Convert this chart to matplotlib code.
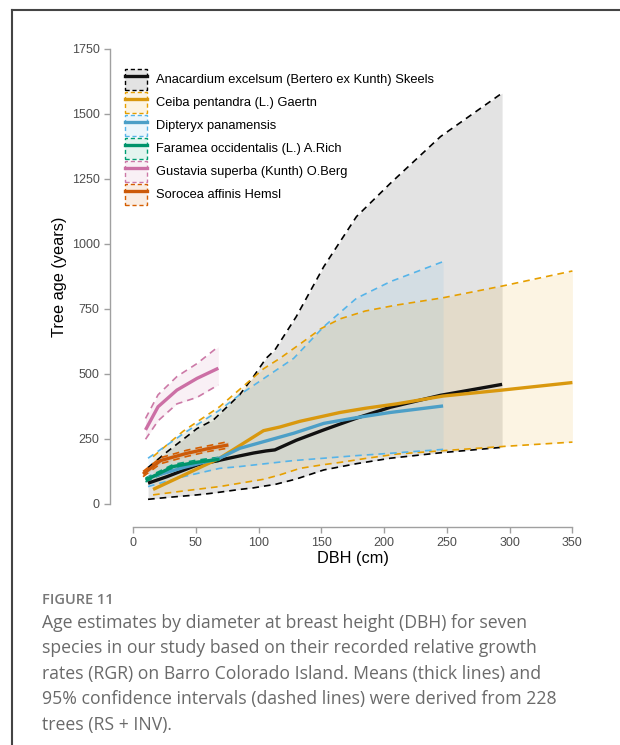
import matplotlib
matplotlib.use("Agg")
import matplotlib.pyplot as plt
from matplotlib.patches import Patch
from matplotlib.lines import Line2D

plt.rcParams["font.family"] = ["Liberation Sans", "DejaVu Sans"]

species = [
    "Anacardium excelsum (Bertero ex Kunth) Skeels",
    "Ceiba pentandra (L.) Gaertn",
    "Dipteryx panamensis",
    "Faramea occidentalis (L.) A.Rich",
    "Gustavia superba (Kunth) O.Berg",
    "Sorocea affinis Hemsl",
]
ci_colors = ["#000000", "#E69F00", "#56B4E9", "#009E73", "#CC79A7", "#D55E00"]
mean_colors = ["#111111", "#D9980E", "#4C9FC7", "#00946B", "#CC6FA5", "#CC5A08"]

# DBH (cm), mean age, lower and upper 95% CI (years)
anac_dbh = [12, 27, 51, 64, 85, 96, 106, 113, 130, 152, 178, 205, 245, 294]
anac_mean = [80, 105, 150, 163, 185, 196, 204, 208, 245, 285, 330, 372, 418, 460]
anac_lo = [18, 25, 35, 42, 56, 62, 70, 75, 96, 131, 155, 176, 197, 218]
anac_hi = [140, 200, 290, 323, 420, 490, 560, 592, 720, 913, 1105, 1233, 1413, 1580]

ceiba_dbh = [16, 40, 69, 104, 117, 133, 150, 165, 185, 210, 247, 294, 350]
ceiba_mean = [56, 110, 176, 282, 296, 318, 336, 352, 368, 385, 415, 438, 467]
ceiba_lo = [35, 50, 67, 95, 112, 137, 150, 160, 175, 192, 205, 221, 238]
ceiba_hi = [182, 280, 374, 520, 560, 615, 675, 712, 742, 765, 793, 838, 896]

dipt_dbh = [12, 40, 69, 85, 128, 152, 178, 205, 247]
dipt_mean = [100, 140, 176, 214, 272, 310, 332, 352, 377]
dipt_lo = [67, 105, 137, 144, 167, 176, 186, 195, 210]
dipt_hi = [176, 270, 361, 420, 560, 682, 791, 855, 932]

fara_dbh = [10, 22, 32, 50, 69]
fara_mean = [92, 120, 144, 160, 172]
fara_lo = [85, 112, 136, 152, 164]
fara_hi = [100, 128, 152, 168, 180]

gust_dbh = [10, 20, 35, 51, 68]
gust_mean = [285, 374, 438, 483, 522]
gust_lo = [249, 320, 385, 410, 458]
gust_hi = [329, 420, 490, 540, 605]

soro_dbh = [8, 22, 43, 60, 76]
soro_mean = [115, 167, 195, 213, 227]
soro_lo = [105, 155, 183, 202, 215]
soro_hi = [125, 178, 207, 224, 240]

series = [
    (anac_dbh, anac_mean, anac_lo, anac_hi),
    (ceiba_dbh, ceiba_mean, ceiba_lo, ceiba_hi),
    (dipt_dbh, dipt_mean, dipt_lo, dipt_hi),
    (fara_dbh, fara_mean, fara_lo, fara_hi),
    (gust_dbh, gust_mean, gust_lo, gust_hi),
    (soro_dbh, soro_mean, soro_lo, soro_hi),
]

x_ticks = [0, 50, 100, 150, 200, 250, 300, 350]
y_ticks = [0, 250, 500, 750, 1000, 1250, 1500, 1750]

fig = plt.figure(figsize=(6.2, 7.45), dpi=100)
ax = fig.add_axes([0.1774, 0.2926, 0.7823, 0.6725])

for (d, m, lo, hi), c in zip(series, ci_colors):
    ax.fill_between(d, lo, hi, color=c, alpha=0.11, linewidth=0, zorder=1)
for (d, m, lo, hi), c in zip(series, ci_colors):
    ax.plot(d, lo, color=c, lw=1.2, ls=(0, (4, 3)), zorder=2)
    ax.plot(d, hi, color=c, lw=1.2, ls=(0, (4, 3)), zorder=2)
for (d, m, lo, hi), c in zip(series, mean_colors):
    ax.plot(d, m, color=c, lw=2.4, solid_capstyle="butt", zorder=3)

ax.set_xlim(-18.3, 368)
ax.set_ylim(-88.5, 1838)
ax.set_xticks(x_ticks)
ax.set_yticks(y_ticks)
for s in ["top", "right"]:
    ax.spines[s].set_visible(False)
ax.spines["left"].set_bounds(0, 1750)
ax.spines["bottom"].set_bounds(0, 350)
for s in ["left", "bottom"]:
    ax.spines[s].set_color("#a0a0a0")
    ax.spines[s].set_linewidth(1.0)
ax.tick_params(axis="both", colors="#a0a0a0", labelcolor="#4d4d4d",
               labelsize=9, length=4, width=1.0)
ax.set_xlabel("DBH (cm)", fontsize=11.7, labelpad=1)
ax.set_ylabel("Tree age (years)", fontsize=11.7, labelpad=3)

handles = []
for c, mc in zip(ci_colors, mean_colors):
    p = Patch(facecolor=matplotlib.colors.to_rgba(c, 0.11), edgecolor=c,
              linestyle=(0, (3, 2)), linewidth=1.0)
    ln = Line2D([], [], color=mc, lw=2.4)
    handles.append((p, ln))
leg = ax.legend(handles, species, loc="upper left",
                bbox_to_anchor=(0.02, 0.925), frameon=False, fontsize=9.3,
                handlelength=1.68, handleheight=2.13, labelspacing=0.15,
                handletextpad=0.7, borderaxespad=0)

# figure border (top and left rules)
fig.add_artist(Line2D([12 / 620, 1.0], [1 - 10 / 745, 1 - 10 / 745],
                      transform=fig.transFigure, color="#444444", lw=1.5))
fig.add_artist(Line2D([12 / 620, 12 / 620], [0, 1 - 10 / 745],
                      transform=fig.transFigure, color="#444444", lw=1.5))

fig.text(42 / 620, 1 - 600 / 745, "FIGURE 11", fontsize=10.5, color="#777777",
         fontweight="semibold", family=["Open Sans", "DejaVu Sans"], va="center")
caption = ("Age estimates by diameter at breast height (DBH) for seven\n"
           "species in our study based on their recorded relative growth\n"
           "rates (RGR) on Barro Colorado Island. Means (thick lines) and\n"
           "95% confidence intervals (dashed lines) were derived from 228\n"
           "trees (RS + INV).")
fig.text(42 / 620, 1 - 614 / 745, caption, fontsize=12.7, color="#6a6a6a",
         family=["Open Sans", "DejaVu Sans"], va="top", linespacing=1.53)

fig.savefig("out.png", dpi=100)
